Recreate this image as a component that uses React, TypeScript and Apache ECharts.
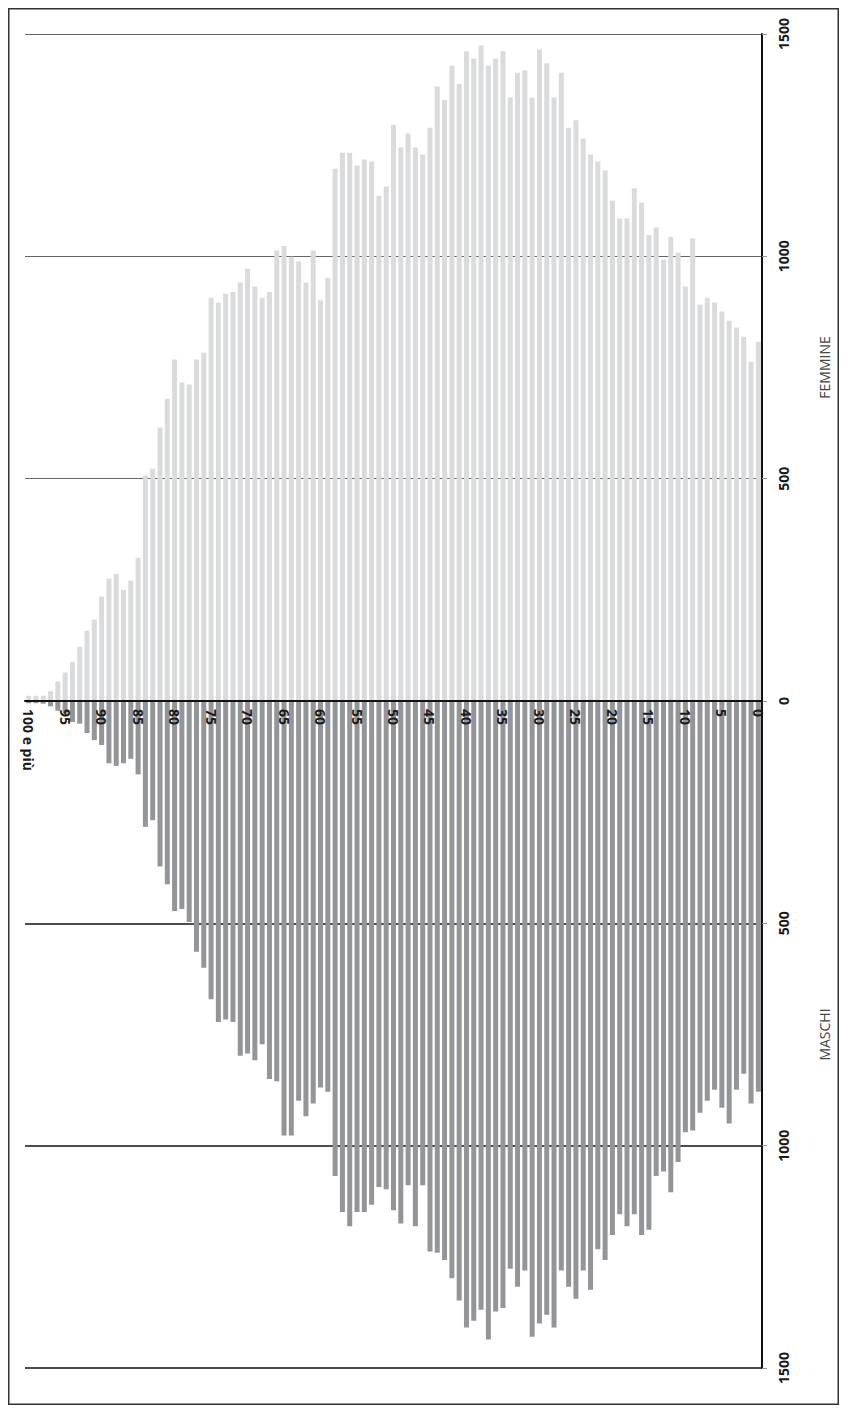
import React, { useEffect, useRef } from "react";
import * as echarts from "echarts";

const ages: string[] = [
  "100 e più", "99", "98", "97", "96", "95", "94", "93", "92", "91",
  "90", "89", "88", "87", "86", "85", "84", "83", "82", "81",
  "80", "79", "78", "77", "76", "75", "74", "73", "72", "71",
  "70", "69", "68", "67", "66", "65", "64", "63", "62", "61",
  "60", "59", "58", "57", "56", "55", "54", "53", "52", "51",
  "50", "49", "48", "47", "46", "45", "44", "43", "42", "41",
  "40", "39", "38", "37", "36", "35", "34", "33", "32", "31",
  "30", "29", "28", "27", "26", "25", "24", "23", "22", "21",
  "20", "19", "18", "17", "16", "15", "14", "13", "12", "11",
  "10", "9", "8", "7", "6", "5", "4", "3", "2", "1", "0",
];

// Femmine, from age "100 e più" down to 0
const femmine: number[] = [
  12, 12, 12, 22, 44, 64, 88, 122, 158, 183,
  235, 275, 286, 250, 271, 322, 507, 523, 615, 680,
  768, 716, 712, 768, 783, 907, 896, 916, 920, 941,
  972, 932, 907, 920, 1013, 1023, 999, 989, 941, 1013,
  901, 952, 1197, 1233, 1233, 1204, 1218, 1213, 1136, 1157,
  1296, 1245, 1276, 1245, 1229, 1289, 1382, 1352, 1429, 1388,
  1461, 1445, 1474, 1429, 1445, 1461, 1357, 1413, 1418, 1357,
  1465, 1434, 1357, 1413, 1289, 1306, 1265, 1229, 1213, 1193,
  1125, 1085, 1085, 1153, 1121, 1048, 1065, 993, 1044, 1008,
  932, 1040, 891, 907, 896, 876, 855, 840, 819, 763, 808,
];

// Maschi, from age "100 e più" down to 0
const maschi: number[] = [
  5, 5, 6, 12, 22, 29, 47, 51, 72, 88,
  99, 140, 146, 140, 130, 165, 283, 268, 372, 412,
  472, 468, 497, 564, 600, 671, 722, 716, 722, 798,
  793, 808, 772, 850, 855, 977, 977, 899, 934, 905,
  869, 879, 1068, 1149, 1181, 1149, 1149, 1133, 1093, 1098,
  1145, 1175, 1089, 1181, 1089, 1238, 1241, 1257, 1298, 1348,
  1409, 1394, 1369, 1436, 1373, 1365, 1277, 1317, 1281, 1430,
  1400, 1380, 1409, 1281, 1317, 1344, 1281, 1324, 1233, 1257,
  1201, 1154, 1181, 1154, 1201, 1189, 1068, 1058, 1105, 1037,
  970, 966, 926, 899, 874, 915, 950, 874, 838, 905, 879,
];

const valueTicks = { min: 0, max: 1500, interval: 500 };
const nameFemmine = "FEMMINE";
const nameMaschi = "MASCHI";

const FONT = "'Open Sans', 'Liberation Sans', sans-serif";

export default function App() {
  const ref = useRef<HTMLDivElement>(null);

  useEffect(() => {
    if (!ref.current) return;
    const chart = echarts.init(ref.current, undefined, { renderer: "svg" });

    const gridLeft = 17;
    const gridWidth = 740;
    const topGrid = { top: 26, height: 667 };
    const botGrid = { top: 693, height: 667 };

    const labelStyle = {
      rotate: 90,
      fontFamily: FONT,
      fontWeight: "bold" as const,
      fontSize: 14,
      color: "#1a1a1a",
    };

    const nameStyle = { fontFamily: FONT, fontSize: 14, color: "#444" };

    const option: any = {
      animation: false,
      backgroundColor: "#ffffff",
      graphic: [
        {
          type: "rect",
          shape: { x: 0.75, y: 0.75, width: 829.5, height: 1395.5 },
          style: { fill: "none", stroke: "#333", lineWidth: 1.5 },
          silent: true,
        },
      ],
      grid: [
        { left: gridLeft, width: gridWidth, top: topGrid.top, height: topGrid.height },
        { left: gridLeft, width: gridWidth, top: botGrid.top, height: botGrid.height },
      ],
      xAxis: [
        {
          gridIndex: 0,
          type: "category",
          data: ages,
          show: false,
        },
        {
          gridIndex: 1,
          type: "category",
          data: ages,
          position: "top",
          z: 5,
          axisLine: { onZero: false, lineStyle: { color: "#111", width: 2 } },
          axisTick: { inside: true, length: 4, interval: 0, lineStyle: { color: "#111", width: 1 } },
          axisLabel: { ...labelStyle, inside: true, interval: 4, margin: 8 },
          splitLine: { show: false },
        },
      ],
      yAxis: [
        {
          gridIndex: 0,
          type: "value",
          ...valueTicks,
          position: "right",
          name: nameFemmine,
          nameLocation: "middle",
          nameGap: 55,
          nameRotate: 90,
          nameTextStyle: nameStyle,
          axisLine: { show: true, lineStyle: { color: "#111", width: 2 } },
          axisTick: { show: true, length: 5, lineStyle: { color: "#999" } },
          axisLabel: { ...labelStyle, margin: 14, formatter: (v: number) => String(v) },
          splitLine: { show: true, lineStyle: { color: "#666", width: 1 } },
        },
        {
          gridIndex: 1,
          type: "value",
          ...valueTicks,
          inverse: true,
          position: "right",
          name: nameMaschi,
          nameLocation: "middle",
          nameGap: 55,
          nameRotate: 90,
          nameTextStyle: nameStyle,
          axisLine: { show: true, lineStyle: { color: "#111", width: 2 } },
          axisTick: { show: true, length: 5, lineStyle: { color: "#999" } },
          axisLabel: { ...labelStyle, margin: 14, showMinLabel: false, formatter: (v: number) => String(v) },
          splitLine: { show: true, lineStyle: { color: "#111", width: 1.6 } },
        },
      ],
      series: [
        {
          name: nameFemmine,
          type: "bar",
          xAxisIndex: 0,
          yAxisIndex: 0,
          data: femmine,
          barWidth: 5,
          itemStyle: { color: "#dadbdd" },
        },
        {
          name: nameMaschi,
          type: "bar",
          xAxisIndex: 1,
          yAxisIndex: 1,
          data: maschi,
          barWidth: 5,
          itemStyle: { color: "#939598" },
        },
      ],
    };

    chart.setOption(option);
    return () => chart.dispose();
  }, []);

  return <div ref={ref} style={{ width: 831, height: 1397 }} />;
}
